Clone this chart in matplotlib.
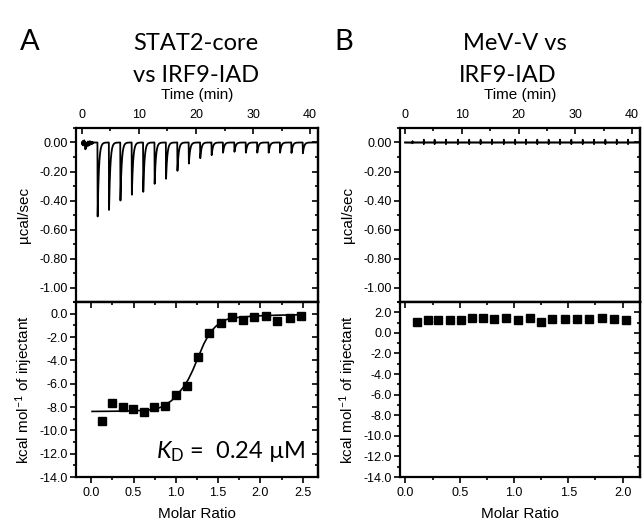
import numpy as np
import matplotlib.pyplot as plt
from matplotlib.ticker import MultipleLocator, FormatStrFormatter

plt.rcParams['font.family'] = ['Liberation Sans', 'DejaVu Sans']
plt.rcParams['mathtext.fontset'] = 'custom'
plt.rcParams['mathtext.rm'] = 'Lato'
plt.rcParams['mathtext.it'] = 'Lato:italic'

# panel A: raw heat peaks (time in min, depth in ucal/sec)
a_inj_t = [0.6, 2.75, 4.75, 6.75, 8.75, 10.75, 12.75, 14.75, 16.75, 18.75, 20.75,
           22.75, 24.75, 26.75, 28.75, 30.75, 32.75, 34.75, 36.75, 38.75]
a_inj_depth = [-0.035, -0.51, -0.465, -0.40, -0.36, -0.34, -0.285, -0.25, -0.195, -0.145,
               -0.108, -0.087, -0.07, -0.064, -0.07, -0.07, -0.07, -0.07, -0.072, -0.074]
a_start_noise = [0.0, -0.015, 0.01, -0.02, 0.012, -0.01, 0.015, -0.02, 0.005, -0.012,
                 0.01, -0.018, 0.008, -0.015, 0.01, -0.01, 0.012, -0.02, 0.006, -0.012,
                 0.01, -0.015, 0.008, -0.01, 0.005, -0.008, 0.006, -0.01, 0.004, -0.005, 0.0]

# panel A: integrated heats
a_ratio = [0.127, 0.246, 0.373, 0.496, 0.623, 0.742, 0.869, 1.0, 1.131, 1.262,
           1.397, 1.528, 1.659, 1.794, 1.925, 2.07, 2.2, 2.345, 2.484]
a_heat = [-9.16, -7.7, -7.99, -8.16, -8.42, -8.04, -7.9, -6.96, -6.24, -3.69,
          -1.63, -0.8, -0.31, -0.54, -0.31, -0.17, -0.63, -0.4, -0.23]
a_fit_x = [0.01, 0.3, 0.6, 0.75, 0.85, 0.95, 1.0, 1.05, 1.1, 1.15, 1.2, 1.26, 1.33,
           1.4, 1.47, 1.53, 1.6, 1.7, 1.8, 1.9, 2.0, 2.2, 2.5]
a_fit_y = [-8.38, -8.36, -8.3, -8.2, -7.95, -7.45, -7.05, -6.65, -6.2, -5.6, -4.85,
           -3.8, -2.6, -1.65, -1.1, -0.75, -0.5, -0.35, -0.28, -0.22, -0.18, -0.13, -0.09]

# panel B: raw trace (tiny spikes only)
b_inj_t = [1.3, 3.3, 5.2, 7.2, 9.3, 11.3, 13.3, 15.3, 17.4, 19.4, 21.3, 23.3, 25.3,
           27.3, 29.3, 31.3, 33.3, 35.3, 37.3, 39.3]
b_spike = [0.01, 0.02, 0.02, 0.02, 0.02, 0.02, 0.02, 0.02, 0.02, 0.02,
           0.02, 0.02, 0.02, 0.02, 0.02, 0.02, 0.02, 0.02, 0.02, 0.02]

# panel B: integrated heats
b_ratio = [0.107, 0.206, 0.304, 0.408, 0.512, 0.61, 0.715, 0.813, 0.923, 1.034,
           1.144, 1.248, 1.353, 1.469, 1.58, 1.693, 1.807, 1.923, 2.034]
b_heat = [1.02, 1.3, 1.3, 1.3, 1.28, 1.41, 1.41, 1.38, 1.41, 1.3, 1.41, 1.02, 1.35,
          1.32, 1.32, 1.32, 1.41, 1.38, 1.28]


def thermogram(inj_t, depth, tau):
    t = np.arange(0, 41.5, 0.005)
    y = np.zeros_like(t)
    for t0, d in zip(inj_t, depth):
        rise = (t >= t0 - 0.04) & (t < t0)
        y[rise] += d * (t[rise] - (t0 - 0.04)) / 0.04
        fall = t >= t0
        y[fall] += d * np.exp(-(t[fall] - t0) / tau)
    return t, y


def style_axes(ax, xmaj, xmin, ymaj, ymin, yfmt, top_panel):
    for s in ax.spines.values():
        s.set_linewidth(1.6)
    ax.xaxis.set_major_locator(MultipleLocator(xmaj))
    ax.xaxis.set_minor_locator(MultipleLocator(xmin))
    ax.yaxis.set_major_locator(MultipleLocator(ymaj))
    ax.yaxis.set_minor_locator(MultipleLocator(ymin))
    ax.yaxis.set_major_formatter(FormatStrFormatter(yfmt))
    ax.tick_params(axis='y', which='both', direction='out', left=True, right=False,
                   labelsize=9, width=1.2, pad=2)
    ax.tick_params(axis='y', which='major', length=4)
    ax.tick_params(axis='y', which='minor', length=2.5)
    sec = ax.secondary_yaxis('right')
    sec.yaxis.set_major_locator(MultipleLocator(ymaj))
    sec.yaxis.set_minor_locator(MultipleLocator(ymin))
    sec.tick_params(which='both', direction='in', labelright=False, width=1.2)
    sec.tick_params(which='major', length=4)
    sec.tick_params(which='minor', length=2.5)
    sec.spines['right'].set_linewidth(1.6)
    if top_panel:
        ax.tick_params(axis='x', which='both', direction='in', top=True, bottom=False,
                       labeltop=True, labelbottom=False, labelsize=9, width=1.2, pad=5)
        ax.xaxis.set_major_formatter(FormatStrFormatter('%d'))
        ax.set_xlabel('Time (min)', fontsize=11, labelpad=7)
        ax.xaxis.set_label_position('top')
    else:
        ax.tick_params(axis='x', which='both', direction='out', top=False, bottom=True,
                       labelsize=9, width=1.2, pad=3)
        ax.xaxis.set_major_formatter(FormatStrFormatter('%.1f'))
        secx = ax.secondary_xaxis('top')
        secx.xaxis.set_major_locator(MultipleLocator(xmaj))
        secx.xaxis.set_minor_locator(MultipleLocator(xmin))
        secx.tick_params(which='both', direction='in', labeltop=False, width=1.2)
        secx.tick_params(which='major', length=4)
        secx.tick_params(which='minor', length=2.5)
        secx.spines['top'].set_linewidth(1.6)
        ax.set_xlabel('Molar Ratio', fontsize=11, labelpad=6)
    ax.tick_params(axis='x', which='major', length=4)
    ax.tick_params(axis='x', which='minor', length=2.5)


fig = plt.figure(figsize=(6.42, 5.23), dpi=100)

W, H = 642.0, 523.0
def box(l, r, top, bot):
    return [l / W, 1 - bot / H, (r - l) / W, (bot - top) / H]

# ---- panel A
axA1 = fig.add_axes(box(76, 318, 128, 302))
t, y = thermogram(a_inj_t, a_inj_depth, 0.22)
nt = np.linspace(0, 2.0, len(a_start_noise))
y = y + np.interp(t, nt, a_start_noise, right=0)
axA1.plot(t, y, color='black', lw=1.3)
axA1.set_xlim(-1.05, 41.4)
axA1.set_ylim(-1.1, 0.1)
style_axes(axA1, 10, 5, 0.2, 0.1, '%.2f', True)
axA1.set_ylabel('µcal/sec', fontsize=11, labelpad=6)

axA2 = fig.add_axes(box(76, 318, 302, 477))
axA2.plot(a_fit_x, a_fit_y, color='black', lw=1.2)
axA2.plot(a_ratio, a_heat, 's', color='black', ms=5.5)
axA2.set_xlim(-0.18, 2.68)
axA2.set_ylim(-14, 1.0)
style_axes(axA2, 0.5, 0.25, 2, 1, '%.1f', False)
axA2.set_ylabel('kcal mol$^{-1}$ of injectant', fontsize=11, labelpad=4,
                fontfamily=['Liberation Sans', 'DejaVu Sans'])
axA2.text(0.95, 0.11, r'$K_{\mathrm{D}}$ =  0.24 µM', transform=axA2.transAxes,
          ha='right', va='baseline', fontsize=17, fontfamily=['Lato', 'DejaVu Sans'])

# ---- panel B
axB1 = fig.add_axes(box(400, 640, 128, 302))
t, y = thermogram(b_inj_t, b_spike, 0.03)
axB1.plot(t, y, color='black', lw=1.2)
axB1.plot(t, -0.6 * y, color='black', lw=1.2)
axB1.set_xlim(-0.9, 41.4)
axB1.set_ylim(-1.1, 0.1)
style_axes(axB1, 10, 5, 0.2, 0.1, '%.2f', True)
axB1.set_ylabel('µcal/sec', fontsize=11, labelpad=6)

axB2 = fig.add_axes(box(400, 640, 302, 477))
axB2.plot(b_ratio, b_heat, 's', color='black', ms=5.5)
axB2.set_xlim(-0.05, 2.16)
axB2.set_ylim(-14, 3.0)
style_axes(axB2, 0.5, 0.25, 2, 1, '%.1f', False)
axB2.set_ylabel('kcal mol$^{-1}$ of injectant', fontsize=11, labelpad=4,
                fontfamily=['Liberation Sans', 'DejaVu Sans'])

# panel letters and titles
fig.text(20 / W, 1 - 50 / H, 'A', fontsize=21, fontfamily='Lato', va='baseline')
fig.text(334 / W, 1 - 50 / H, 'B', fontsize=21, fontfamily='Lato', va='baseline')
fig.text(196 / W, 1 - 50 / H, 'STAT2-core', fontsize=17, fontfamily='Lato',
         ha='center', va='baseline')
fig.text(196 / W, 1 - 82 / H, 'vs IRF9-IAD', fontsize=17, fontfamily='Lato',
         ha='center', va='baseline')
fig.text(515 / W, 1 - 50 / H, 'MeV-V vs', fontsize=17, fontfamily='Lato',
         ha='center', va='baseline')
fig.text(508 / W, 1 - 82 / H, 'IRF9-IAD', fontsize=17, fontfamily='Lato',
         ha='center', va='baseline')

fig.savefig('out.png', dpi=100)
